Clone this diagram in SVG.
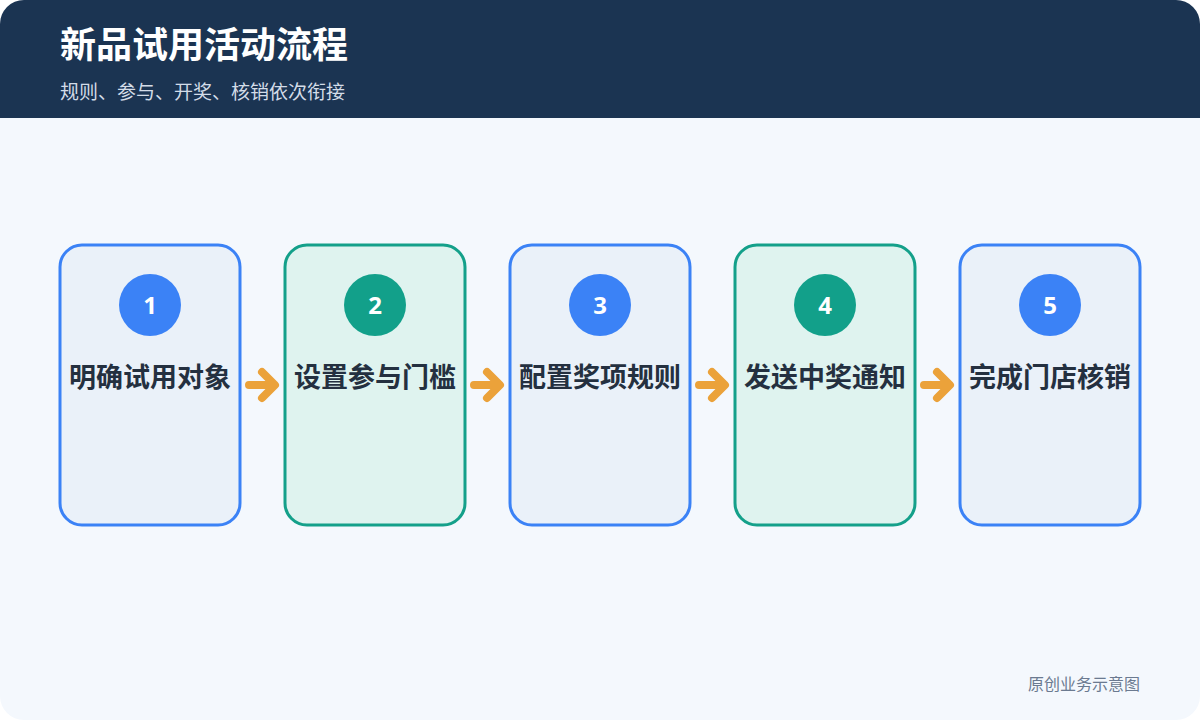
<svg xmlns="http://www.w3.org/2000/svg" width="1200" height="720" viewBox="0 0 1200 720">
<defs>
<clipPath id="frame"><rect x="0" y="0" width="1200" height="720" rx="24" ry="24"/></clipPath>
<style>
.title{font-family:"Noto Sans CJK SC","Noto Sans",sans-serif;font-weight:700;font-size:36px;fill:#ffffff}
.sub{font-family:"Noto Sans CJK SC","Noto Sans",sans-serif;font-size:19px;fill:#d3dce8}
.foot{font-family:"Noto Sans CJK SC","Noto Sans",sans-serif;font-size:16px;fill:#6b7a90}
.boxb{fill:#eaf1f9;stroke:#3b82f6;stroke-width:3}
.boxg{fill:#dff3ef;stroke:#14a08a;stroke-width:3}
.cb{fill:#3b82f6}
.cg{fill:#12a08a}
.num{font-family:"Noto Sans","Noto Sans CJK SC",sans-serif;font-weight:700;font-size:24px;fill:#ffffff;text-anchor:middle}
.lbl{font-family:"Noto Sans CJK SC","Noto Sans",sans-serif;font-weight:700;font-size:27px;fill:#243040;text-anchor:middle}
.arr{fill:none;stroke:#eba23a;stroke-width:8;stroke-linecap:round;stroke-linejoin:round}
</style>
</defs>
<g clip-path="url(#frame)">
<rect x="0" y="0" width="1200" height="720" fill="#f4f8fd"/>
<rect x="0" y="0" width="1200" height="118" fill="#1b3452"/>
</g>
<text class="title" x="60" y="58">新品试用活动流程</text>
<text class="sub" x="60" y="99">规则、参与、开奖、核销依次衔接</text>

<g id="connectors">
<path class="arr" d="M249 385 H274 M262 372 L275 385 L262 398"/>
<path class="arr" d="M474 385 H499 M487 372 L500 385 L487 398"/>
<path class="arr" d="M699 385 H724 M712 372 L725 385 L712 398"/>
<path class="arr" d="M924 385 H949 M937 372 L950 385 L937 398"/>
</g>

<g id="node1">
<rect class="boxb" x="60" y="245" width="180" height="280" rx="22"/>
<circle class="cb" cx="150" cy="305" r="31"/>
<text class="num" x="150" y="314">1</text>
<text class="lbl" x="150" y="387">明确试用对象</text>
</g>
<g id="node2">
<rect class="boxg" x="285" y="245" width="180" height="280" rx="22"/>
<circle class="cg" cx="375" cy="305" r="31"/>
<text class="num" x="375" y="314">2</text>
<text class="lbl" x="375" y="387">设置参与门槛</text>
</g>
<g id="node3">
<rect class="boxb" x="510" y="245" width="180" height="280" rx="22"/>
<circle class="cb" cx="600" cy="305" r="31"/>
<text class="num" x="600" y="314">3</text>
<text class="lbl" x="600" y="387">配置奖项规则</text>
</g>
<g id="node4">
<rect class="boxg" x="735" y="245" width="180" height="280" rx="22"/>
<circle class="cg" cx="825" cy="305" r="31"/>
<text class="num" x="825" y="314">4</text>
<text class="lbl" x="825" y="387">发送中奖通知</text>
</g>
<g id="node5">
<rect class="boxb" x="960" y="245" width="180" height="280" rx="22"/>
<circle class="cb" cx="1050" cy="305" r="31"/>
<text class="num" x="1050" y="314">5</text>
<text class="lbl" x="1050" y="387">完成门店核销</text>
</g>

<text class="foot" x="1140" y="690" text-anchor="end">原创业务示意图</text>
</svg>
